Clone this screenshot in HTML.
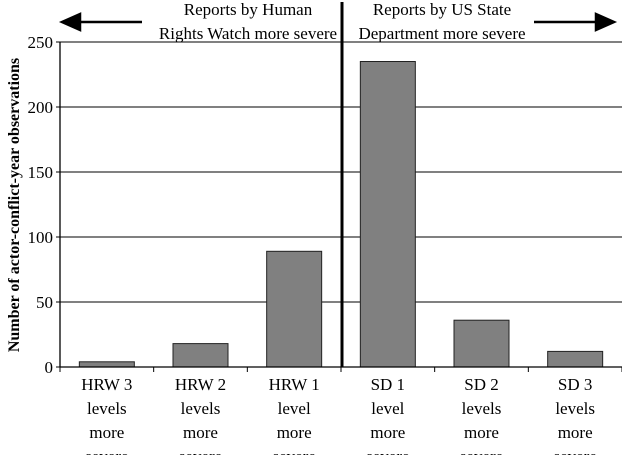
<!DOCTYPE html>
<html><head><meta charset="utf-8"><style>
body{margin:0;background:#fff}
svg{display:block;font-family:"Liberation Serif",serif}
</style></head><body>
<svg width="622" height="455" viewBox="0 0 622 455" id="c">
</svg>
<script>
const categories=[["HRW 3","levels","more","severe"],["HRW 2","levels","more","severe"],["HRW 1","level","more","severe"],["SD 1","level","more","severe"],["SD 2","levels","more","severe"],["SD 3","levels","more","severe"]];
const values=[4,18,89,235,36,12];
const ticks=[0,50,100,150,200,250];
const svg=document.getElementById('c');
const NS='http://www.w3.org/2000/svg';
const x0=60,x1=622,y0=367,yTop=42,maxV=250;
const bw=(x1-x0)/categories.length;
const y=v=>y0-(v/maxV)*(y0-yTop);
const cx=i=>x0+bw*(i+0.5);
function mk(t,a,p){const e=document.createElementNS(NS,t);for(const k in a)e.setAttribute(k,a[k]);(p||svg).appendChild(e);return e;}
ticks.forEach(t=>{
 if(t>0){const g=mk('line',{x1:x0,x2:x1,y1:y(t),y2:y(t),stroke:'#000','stroke-width':1});
 
 }
 const l=mk('text',{x:x0-7,y:y(t)+6,'text-anchor':'end','font-size':17});
 l.textContent=t;
 
 
 const tk=mk('line',{x1:x0-4,x2:x0,y1:y(t),y2:y(t),stroke:'#000'});
 
 
});
values.forEach((v,i)=>{
 const r=mk('rect',{x:cx(i)-27.5,y:y(v),width:55,height:y0-y(v),fill:'#808080',stroke:'#222','stroke-width':1});
 
 
 categories[i].forEach((s,j)=>{
  const t=mk('text',{x:cx(i),y:390+j*24,'text-anchor':'middle','font-size':17});
  t.textContent=s;
  
  
 });
});
for(let i=0;i<=categories.length;i++){
 const tk=mk('line',{x1:x0+bw*i,x2:x0+bw*i,y1:y0,y2:y0+5,stroke:'#000'});
 
 
}
const ax=mk('line',{x1:x0,x2:x0,y1:yTop,y2:y0,stroke:'#000','stroke-width':1.3});


const xa=mk('line',{x1:x0,x2:x1,y1:y0,y2:y0,stroke:'#000','stroke-width':1.3});


const dv=mk('line',{x1:342,x2:342,y1:2,y2:y0,stroke:'#000','stroke-width':3});


const yt=mk('text',{x:0,y:0,transform:'translate(19,205) rotate(-90)','text-anchor':'middle','font-size':16,'font-weight':'bold'});
yt.textContent='Number of actor-conflict-year observations';


[['Reports by Human',248,15],['Rights Watch more severe',248,39],['Reports by US State',442,15],['Department more severe',442,39]].forEach(a=>{
 const t=mk('text',{x:a[1],y:a[2],'text-anchor':'middle','font-size':17});
 t.textContent=a[0];
 
 
});
const a1=mk('path',{d:'M142 22 H76 M62 22 L80 14 L80 30 Z',stroke:'#000','stroke-width':2.5,fill:'#000'});


const a2=mk('path',{d:'M534 22 H600 M614 22 L596 14 L596 30 Z',stroke:'#000','stroke-width':2.5,fill:'#000'});


</script>
</body></html>
